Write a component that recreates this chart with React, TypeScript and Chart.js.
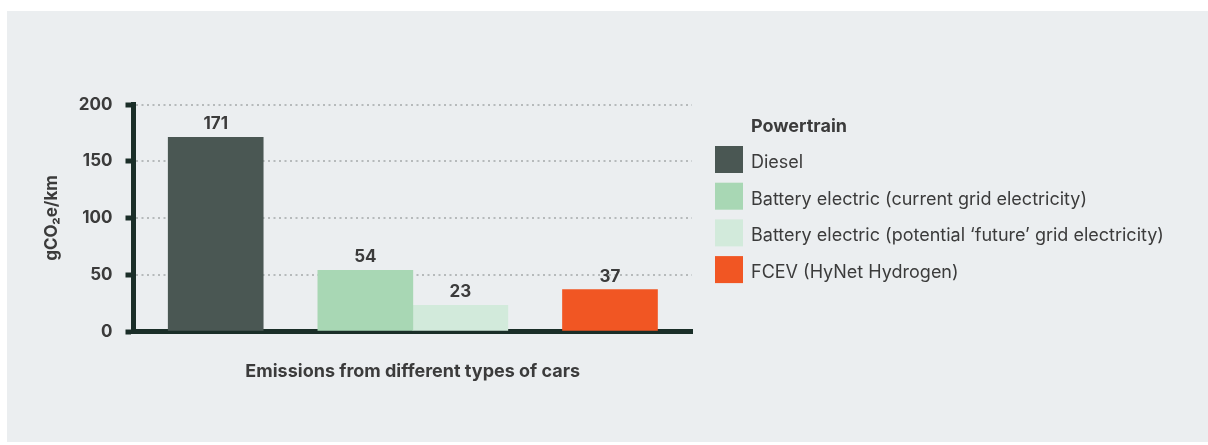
import React, { useEffect, useRef } from 'react';
import { Chart, registerables } from 'chart.js';

Chart.register(...registerables);

// ---- data ----
const categories = ['Diesel', 'Battery electric', 'FCEV'];
const seriesNames = [
  'Diesel',
  'Battery electric (current grid electricity)',
  'Battery electric (potential ‘future’ grid electricity)',
  'FCEV (HyNet Hydrogen)',
];
const dieselValues = [171, null, null];
const bevCurrentValues = [null, 54, null];
const bevFutureValues = [null, 23, null];
const fcevValues = [null, null, 37];
const yTickValues = [0, 50, 100, 150, 200];
const legendTitle = 'Powertrain';
const xAxisTitle = 'Emissions from different types of cars';
const yAxisTitle = 'gCO₂e/km';

// ---- styles ----
const seriesColors = ['#4a5753', '#a8d7b4', '#d2eadb', '#f15623'];
const AXIS = '#1a2e28';
const TEXT = '#3b3b3b';
const GRID = '#b6babb';
const BG = '#ebeef0';
const FONT = 'Inter';

const valueLabelPlugin = {
  id: 'valueLabels',
  afterDatasetsDraw(chart: any) {
    const { ctx } = chart;
    ctx.save();
    ctx.font = `bold 17px ${FONT}`;
    ctx.fillStyle = TEXT;
    ctx.textAlign = 'center';
    ctx.textBaseline = 'alphabetic';
    chart.data.datasets.forEach((ds: any, di: number) => {
      const meta = chart.getDatasetMeta(di);
      meta.data.forEach((el: any, i: number) => {
        const v = ds.data[i].y;
        if (v === null || v === undefined) return;
        ctx.fillText(String(v), el.x, el.y - 8);
      });
    });
    ctx.restore();
  },
};

const sideLegendPlugin = {
  id: 'sideLegend',
  afterDraw(chart: any) {
    const { ctx, chartArea } = chart;
    const x0 = chartArea.right + 23;
    const top = chartArea.top + 41.5;
    const pitch = 36.7;
    ctx.save();
    ctx.textAlign = 'left';
    ctx.textBaseline = 'alphabetic';
    ctx.fillStyle = TEXT;
    ctx.font = `bold 18px ${FONT}`;
    ctx.fillText(legendTitle, x0 + 36, top - 14);
    chart.data.datasets.forEach((ds: any, i: number) => {
      const y = top + i * pitch;
      ctx.fillStyle = ds.backgroundColor;
      ctx.fillRect(x0, y, 28, 27);
      ctx.fillStyle = TEXT;
      ctx.font = `18px ${FONT}`;
      ctx.fillText(ds.label, x0 + 36, y + 22);
    });
    ctx.restore();
  },
};

export default function App() {
  const ref = useRef<HTMLCanvasElement | null>(null);

  useEffect(() => {
    if (!ref.current) return;
    const seriesValues = [dieselValues, bevCurrentValues, bevFutureValues, fcevValues];
    const chart = new Chart(ref.current, {
      type: 'bar',
      data: {
        labels: categories,
        datasets: seriesValues.map((vals, si) => ({
          label: seriesNames[si],
          data: vals.map((v, i) => ({ x: i, y: v })) as any,
          backgroundColor: seriesColors[si],
          borderWidth: 0,
          barThickness: 95,
          skipNull: true,
        })),
      },
      options: {
        animation: false,
        responsive: false,
        maintainAspectRatio: false,
        layout: { padding: { left: 0, top: 93.5, right: 516, bottom: 59.5 } },
        plugins: {
          legend: { display: false },
          tooltip: { enabled: false },
        },
        scales: {
          x: {
            type: 'linear',
            min: -0.417,
            max: 2.416,
            offset: false,
            ticks: { display: false },
            grid: { display: false, drawTicks: false },
            border: { display: true, color: AXIS, width: 5 },
            title: {
              display: true,
              text: xAxisTitle,
              color: TEXT,
              font: { family: FONT, size: 18, weight: 'bold' },
              padding: { top: 0, bottom: 0 },
            },
            afterFit(scale: any) {
              scale.height = 51;
            },
          },
          y: {
            type: 'linear',
            min: 0,
            max: 200,
            afterBuildTicks(scale: any) {
              scale.ticks = yTickValues.map((v) => ({ value: v }));
            },
            ticks: {
              color: TEXT,
              padding: 13,
              font: { family: FONT, size: 17, weight: 'bold' },
            },
            grid: {
              color: GRID,
              lineWidth: 2,
              drawTicks: true,
              tickLength: 8,
              tickWidth: 5,
              tickColor: AXIS,
            },
            border: { display: true, color: AXIS, width: 5, dash: [2, 3.5] },
            title: {
              display: true,
              text: yAxisTitle,
              color: TEXT,
              font: { family: FONT, size: 17, weight: 'bold' },
              padding: { top: 35, bottom: 0 },
            },
            afterFit(scale: any) {
              scale.width = 126.5;
            },
          },
        },
      },
      plugins: [valueLabelPlugin, sideLegendPlugin],
    });
    return () => chart.destroy();
  }, []);

  return (
    <div
      style={{
        position: 'fixed',
        left: 7,
        top: 11,
        width: 1201,
        height: 431,
        background: BG,
      }}
    >
      <canvas ref={ref} width={1201} height={431} style={{ display: 'block', width: 1201, height: 431 }} />
    </div>
  );
}
